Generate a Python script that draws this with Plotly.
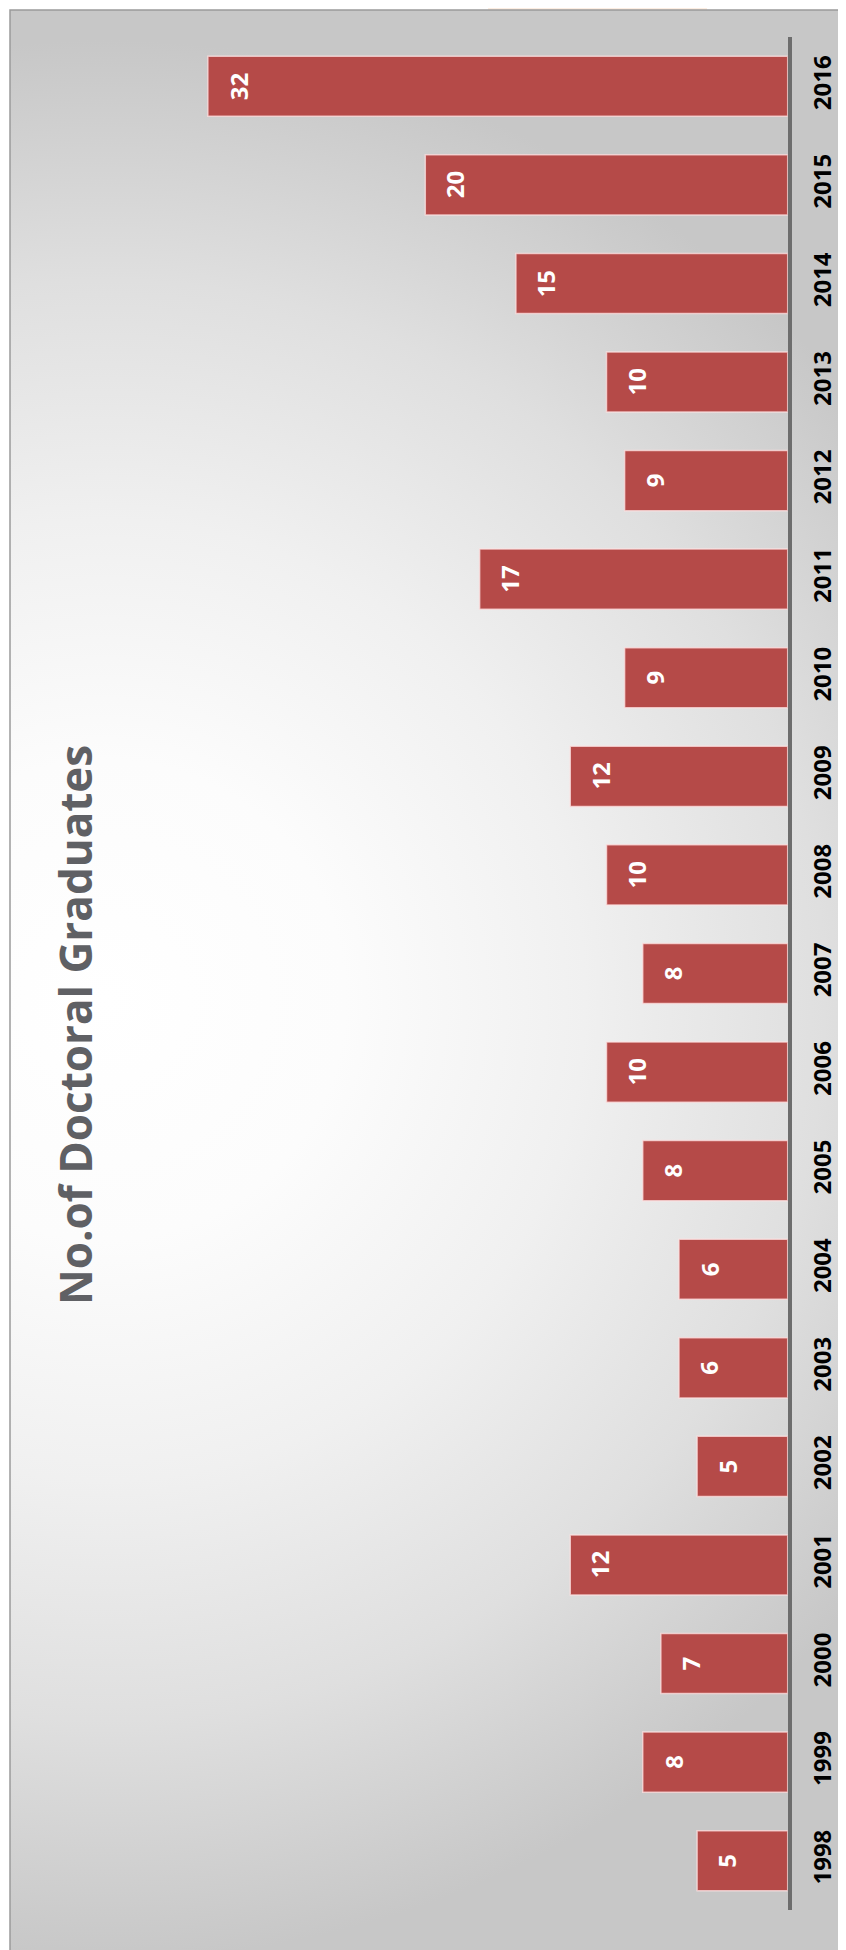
import base64
import plotly.graph_objects as go

years = [str(y) for y in range(1998, 2017)]
graduates = [5, 8, 7, 12, 5, 6, 6, 8, 10, 8, 10, 12, 9, 17, 9, 10, 15, 20, 32]
title_text = "No.of Doctoral Graduates"

W, H = 846, 1950
FONT = "Open Sans"
OFF = 8  # page body margin offset

# radial background gradient as an inline SVG image
svg = f'''<svg xmlns="http://www.w3.org/2000/svg" width="844" height="1948" viewBox="0 0 844 1948" preserveAspectRatio="none">
<defs><radialGradient id="g" gradientUnits="userSpaceOnUse" cx="95" cy="990" r="960">
<stop offset="0" stop-color="#ffffff"/>
<stop offset="0.25" stop-color="#fcfcfc"/>
<stop offset="0.5" stop-color="#f0f0f0"/>
<stop offset="0.75" stop-color="#dfdfdf"/>
<stop offset="1" stop-color="#c7c7c7"/>
</radialGradient></defs>
<rect x="0" y="0" width="844" height="1948" fill="url(#g)"/>
</svg>'''
src = "data:image/svg+xml;base64," + base64.b64encode(svg.encode()).decode()

axis_px = 787.7 - OFF
px_per_unit = 18.12
xmax = 35
x_dom = [(axis_px - xmax * px_per_unit) / W, axis_px / W]
y_dom = [(H - (1910 - OFF)) / H, (H - (37 - OFF)) / H]

fig = go.Figure()
fig.add_trace(go.Bar(
    x=graduates, y=years, orientation="h",
    marker=dict(color="#b54a48", line=dict(color="rgba(255,225,225,0.75)", width=1.5)),
    hoverinfo="x+y",
))

annotations = []
for i, v in enumerate(graduates):
    annotations.append(dict(
        x=v, y=i, xref="x", yref="y", text=str(v), showarrow=False,
        textangle=-90, xanchor="center", yanchor="middle", xshift=30,
        font=dict(family=FONT, size=24, color="white", weight="bold"),
    ))
annotations.append(dict(
    x=67 / W, y=1 - (1025 - OFF) / H, xref="paper", yref="paper", text=title_text,
    showarrow=False, textangle=-90, xanchor="center", yanchor="middle",
    font=dict(family=FONT, size=44, color="#5f6064", weight="bold"),
))

b = 10 - OFF
fig.update_layout(
    width=W, height=H,
    margin=dict(l=0, r=0, t=0, b=0),
    paper_bgcolor="white", plot_bgcolor="rgba(0,0,0,0)",
    showlegend=False, bargap=0.39,
    xaxis=dict(domain=x_dom, range=[xmax, 0], visible=False, fixedrange=True),
    yaxis=dict(domain=y_dom, side="right", type="category",
               range=[-0.5, len(years) - 0.5], autorange=False,
               showline=True, linecolor="#6d6d6d", linewidth=3.5,
               showgrid=False, zeroline=False, ticks="",
               tickangle=-90, ticklabelstandoff=11,
               tickfont=dict(family=FONT, size=24, color="black", weight="bold")),
    images=[dict(source=src, xref="paper", yref="paper", x=b / W, y=1 - b / H,
                 sizex=(W - b) / W, sizey=(H - b) / H, xanchor="left", yanchor="top",
                 sizing="stretch", layer="below")],
    shapes=[
        dict(type="rect", xref="paper", yref="paper", x0=(488 - OFF) / W, x1=(707 - OFF) / W,
             y0=1 - b / H, y1=1, fillcolor="#fdeee2", line=dict(width=0), layer="below"),
        dict(type="rect", xref="paper", yref="paper", x0=b / W, x1=1.01,
             y0=-0.01, y1=1 - b / H, line=dict(color="#9a9a9a", width=1.5), layer="below"),
    ],
    annotations=annotations,
)

fig.write_html("out.html")
